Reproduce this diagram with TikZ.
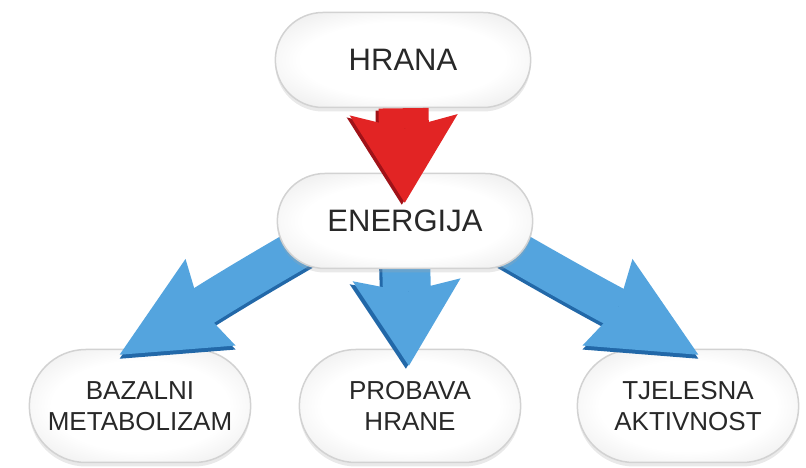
\documentclass[tikz,border=0pt]{standalone}
\usepackage{fontspec}
\setmainfont{Liberation Sans}
\usetikzlibrary{shapes.misc,shadows,arrows.meta}
\definecolor{pillmid}{RGB}{230,230,230}
\definecolor{pilledge}{RGB}{208,208,208}
\definecolor{pillrim}{RGB}{182,182,182}
\definecolor{textgray}{RGB}{40,40,40}
\definecolor{redmain}{RGB}{226,36,36}
\definecolor{reddark}{RGB}{160,18,24}
\definecolor{bluemain}{RGB}{84,164,222}
\definecolor{bluedark}{RGB}{34,104,168}
\pgfdeclareradialshading{pillshade}{\pgfpoint{0bp}{0bp}}{color(0bp)=(white);
    color(20bp)=(white); color(37bp)=(pillmid); color(45bp)=(pilledge); color(50bp)=(pillrim)}
\pgfdeclarelayer{front}
\pgfsetlayers{main,front}

\begin{document}
\begin{tikzpicture}[x=1pt,y=1pt,
        pill/.style={rounded rectangle, shading=pillshade,
            draw=gray!35, line width=1.5pt, text=textgray,
            drop shadow={shadow xshift=0pt, shadow yshift=-4pt, opacity=.25, fill=gray!70}},
        toppill/.style={pill, minimum width=262pt, minimum height=95pt,
            font=\fontsize{31}{36}\selectfont},
        botpill/.style={pill, minimum width=228pt, minimum height=113pt, align=center,
            font=\fontsize{26}{31}\selectfont},
        redfat/.style={line width=50pt, draw=#1,
            -{Stealth[length=88pt,width=108pt,inset=14pt,line width=0pt]}},
        bluefat/.style={line width=40pt, draw=#1,
            -{Stealth[length=105pt,width=100pt,inset=12pt,line width=0pt]}},
        bluemid/.style={line width=48pt, draw=#1,
            -{Stealth[length=86pt,width=108pt,inset=12pt,line width=0pt]}}]
    \useasboundingbox (0,0) rectangle (806,468);
    % pills
    \begin{pgfonlayer}{front}
        \node[toppill] (hrana) at (403,408) {HRANA};
        \node[toppill] (energija) at (405,247) {ENERGIJA};
    \end{pgfonlayer}
    \node[botpill] (bazalni) at (140,62) {BAZALNI\\METABOLIZAM};
    \node[botpill] (probava) at (410,62) {PROBAVA\\HRANE};
    \node[botpill] (tjelesna) at (688,62) {TJELESNA\\AKTIVNOST};

    % blue arrows
    \draw[bluefat=bluedark, transform canvas={yshift=-4pt}, shorten <=-15pt, shorten >=-12pt]
        (energija.196) to[out=210,in=30] ([xshift=-10pt]bazalni.north);
    \draw[bluefat=bluemain, shorten <=-15pt, shorten >=-12pt]
        (energija.196) to[out=210,in=30] ([xshift=-10pt]bazalni.north);
    \draw[bluemid=bluedark, transform canvas={xshift=-3pt,yshift=-3pt}, shorten <=-15pt, shorten >=-17pt]
        (energija) -- (probava);
    \draw[bluemid=bluemain, shorten <=-15pt, shorten >=-17pt] (energija) -- (probava);
    \draw[bluefat=bluedark, transform canvas={yshift=-4pt}, shorten <=-15pt, shorten >=-12pt]
        (energija.-16) to[out=-30,in=150] (tjelesna.north);
    \draw[bluefat=bluemain, shorten <=-15pt, shorten >=-12pt]
        (energija.-16) to[out=-30,in=150] (tjelesna.north);

    % red arrow
    \begin{pgfonlayer}{front}
        \draw[redfat=reddark, transform canvas={xshift=-3pt,yshift=-2pt}, shorten >=-30pt]
            (hrana) -- (energija);
        \draw[redfat=redmain, shorten >=-30pt] (hrana) -- (energija);
    \end{pgfonlayer}
\end{tikzpicture}
\end{document}
